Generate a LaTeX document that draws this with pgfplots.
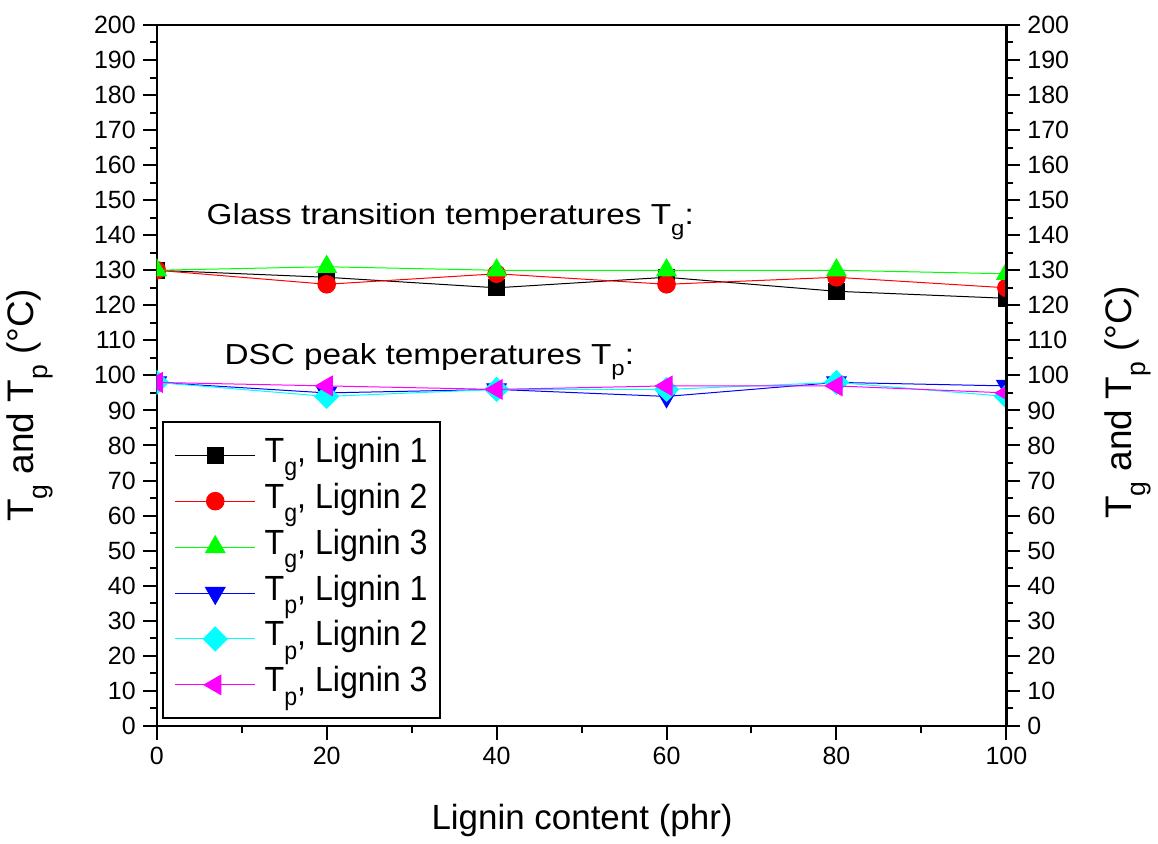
\documentclass[border=0pt]{standalone}
\usepackage{fontspec}
\setmainfont{Liberation Sans}
\newfontfamily\legfont[FakeStretch=0.92]{Liberation Sans}
\newfontfamily\annfont[FakeStretch=1.15]{Liberation Sans}
\usepackage{graphicx}
\usepackage{pgfplots}
\pgfplotsset{compat=1.18}
\definecolor{cA}{RGB}{0,0,0}
\definecolor{cB}{RGB}{255,0,0}
\definecolor{cC}{RGB}{0,255,0}
\definecolor{cD}{RGB}{0,0,255}
\definecolor{cE}{RGB}{0,255,255}
\definecolor{cF}{RGB}{255,0,255}
\newcommand\sub[1]{\raisebox{-0.38em}{\scalebox{0.72}{#1}}}
\pgfplotsset{
  common/.style={
    at={(0,0)}, anchor=south west,
    scale only axis, width=425.5pt, height=351pt,
    xmin=0, xmax=100, ymin=0, ymax=200,
    ytick={0,10,...,200}, minor y tick num=1,
    tick align=outside, major tick length=7pt, minor tick length=3.5pt,
    axis line style={line width=1.2pt},
    every tick/.style={black, line width=1pt},
    ticklabel style={font=\fontsize{12.5}{14}\selectfont},
    /pgf/number format/assume math mode=true,
  }
}
\begin{document}
\begin{tikzpicture}
\begin{axis}[common,
  name=ax,
  xtick={0,20,...,100}, minor x tick num=1,
  xtick pos=lower, ytick pos=left,
  clip marker paths=true,
  legend style={at={(0.006,0.01)}, anchor=south west, draw=black, line width=1pt,
    font=\legfont\fontsize{17.5}{19}\selectfont,
    inner xsep=6pt, inner ysep=7pt, column sep=4.5pt, row sep=4pt,
    nodes={inner sep=0pt, text height=13pt, text depth=6pt}},
  legend cell align=left,
  legend image code/.code={\draw[mark repeat=2,mark phase=2] plot coordinates {(0pt,0pt) (20pt,0pt) (40pt,0pt)};},
]
\addplot[cA, line width=0.5pt, mark=square*, mark size=4pt, mark options={solid, fill=cA}]
  coordinates {(0,130) (20,128) (40,125) (60,128) (80,124) (100,122)};
\addlegendentry{T\sub{g}, Lignin 1}
\addplot[cB, line width=0.5pt, mark=*, mark size=4.4pt, mark options={solid, fill=cB}]
  coordinates {(0,130) (20,126) (40,129) (60,126) (80,128) (100,125)};
\addlegendentry{T\sub{g}, Lignin 2}
\addplot[cC, line width=0.5pt, mark=triangle*, mark size=5.6pt, mark options={solid, fill=cC}]
  coordinates {(0,130) (20,131) (40,130) (60,130) (80,130) (100,129)};
\addlegendentry{T\sub{g}, Lignin 3}
\addplot[cD, line width=0.5pt, mark=triangle*, mark size=5.6pt, mark options={solid, fill=cD, rotate=180}]
  coordinates {(0,98) (20,95) (40,96) (60,94) (80,98) (100,97)};
\addlegendentry{T\sub{p}, Lignin 1}
\addplot[cE, line width=0.5pt, mark=square*, mark size=4.2pt, mark options={solid, fill=cE, rotate=45}]
  coordinates {(0,98) (20,94) (40,96) (60,96) (80,98) (100,94)};
\addlegendentry{T\sub{p}, Lignin 2}
\addplot[cF, line width=0.5pt, mark=triangle*, mark size=5.6pt, mark options={solid, fill=cF, rotate=90}]
  coordinates {(0,98) (20,97) (40,96) (60,97) (80,97) (100,95)};
\addlegendentry{T\sub{p}, Lignin 3}
\end{axis}
\begin{axis}[common,
  axis x line=none, axis y line*=right,
  ytick pos=right, yticklabel pos=right,
]
\end{axis}
\node[anchor=base west, font=\annfont\fontsize{14.5}{16}\selectfont] at (21.5pt,251pt) {Glass transition temperatures T\sub{g}:};
\node[anchor=base west, font=\annfont\fontsize{14.5}{16}\selectfont] at (30.5pt,181pt) {DSC peak temperatures T\sub{p}:};
\node[rotate=90, font=\fontsize{18.5}{20}\selectfont] at (-63.5pt,160.5pt) {T\sub{g} and T\sub{p} (°C)};
\node[rotate=90, font=\fontsize{18.5}{20}\selectfont] at (486.5pt,162pt) {T\sub{g} and T\sub{p} (°C)};
\node[anchor=base, font=\fontsize{17.5}{19}\selectfont] at (213pt,-52pt) {Lignin content (phr)};
\useasboundingbox (-78.5pt,-55.5pt) rectangle (500.5pt,363.5pt);
\end{tikzpicture}
\end{document}
